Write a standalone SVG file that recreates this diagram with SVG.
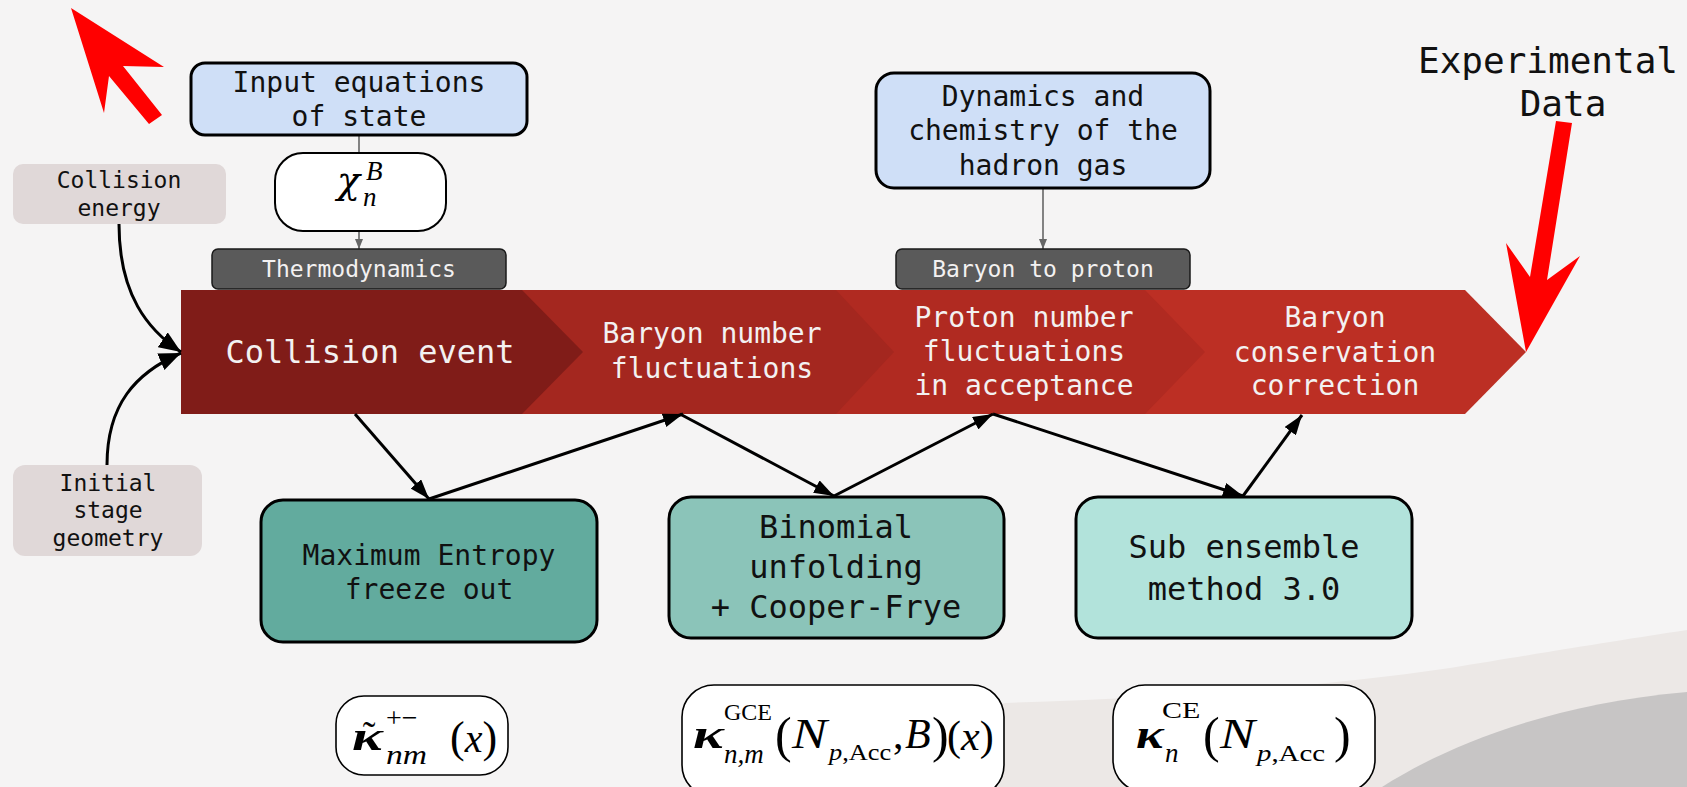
<svg xmlns="http://www.w3.org/2000/svg" width="1687" height="787" viewBox="0 0 1687 787">
<style>
.lbl{font-family:"DejaVu Sans Mono","Liberation Mono",monospace;fill:#111;text-anchor:middle;}
.wht{font-family:"DejaVu Sans Mono","Liberation Mono",monospace;fill:#f3f1f1;text-anchor:middle;}
.math{font-family:"Liberation Serif","DejaVu Serif",serif;fill:#000;}
.it{font-style:italic;}
.bi{font-style:italic;font-weight:bold;}
.blue{fill:#cfdff7;stroke:#000;stroke-width:3;}
.tag{fill:#5a5a5a;stroke:#1a1a1a;stroke-width:1.5;}
.side{fill:#e0d8d8;}
.formula{fill:#fff;stroke:#000;stroke-width:1.6;}
.teal{stroke:#000;stroke-width:3;}
.conn{stroke:#000;stroke-width:3;fill:none;}
.gconn{stroke:#666;stroke-width:1.6;fill:none;}
</style>
<defs>
<marker id="ah" viewBox="0 0 20 14" refX="20" refY="7" markerWidth="20" markerHeight="14" markerUnits="userSpaceOnUse" orient="auto"><path d="M0,0 L20,7 L0,14 z" fill="#000"/></marker>
<marker id="ahc" viewBox="0 0 22 18" refX="22" refY="9" markerWidth="22" markerHeight="18" markerUnits="userSpaceOnUse" orient="auto"><path d="M0,0 L22,9 L0,18 z" fill="#000"/></marker>
<marker id="ahg" viewBox="0 0 10 8" refX="10" refY="4" markerWidth="10" markerHeight="8" markerUnits="userSpaceOnUse" orient="auto"><path d="M0,0 L10,4 L0,8 z" fill="#666"/></marker>
</defs>

<!-- background -->
<rect x="0" y="0" width="1687" height="787" fill="#f5f4f4"/>
<path d="M930,787 C950,745 970,712 1005,703 C1150,698 1300,690 1450,668 C1560,650 1620,640 1687,630 L1687,787 Z" fill="#ece8e6"/>
<path d="M1382,787 C1440,750 1540,705 1687,692 L1687,787 Z" fill="#c7c5c5"/>

<!-- red pointer arrows -->
<polygon points="71,8 164,67 123,66 162,115 149,124 109,76 104,113" fill="#ff0000"/>
<polygon points="1526,352 1506,243 1530,277 1556,121 1572,123 1547,280 1580,256" fill="#ff0000"/>

<!-- process band -->
<g id="band">
<polygon points="181,290 1465,290 1526,352 1465,414 181,414" fill="#bc2f24"/>
<polygon points="181,290 1145,290 1205,352 1145,414 181,414" fill="#b02a21"/>
<polygon points="181,290 836,290 894,352 836,414 181,414" fill="#a4271f"/>
<polygon points="181,290 522,290 583,352 522,414 181,414" fill="#801c18"/>
</g>
<g id="collision-event"><text class="wht" x="370" y="363" font-size="32">Collision event</text></g>
<g id="baryon-fluct"><text class="wht" font-size="28"><tspan x="712" y="343">Baryon number</tspan><tspan x="712" y="378">fluctuations</tspan></text></g>
<g id="proton-fluct"><text class="wht" font-size="28"><tspan x="1024" y="327">Proton number</tspan><tspan x="1024" y="361">fluctuations</tspan><tspan x="1024" y="395">in acceptance</tspan></text></g>
<g id="baryon-cons"><text class="wht" font-size="28"><tspan x="1335" y="327">Baryon</tspan><tspan x="1335" y="362">conservation</tspan><tspan x="1335" y="395">correction</tspan></text></g>

<!-- connectors -->
<g id="connectors">
<line class="gconn" x1="359" y1="135" x2="359" y2="153"/>
<line class="gconn" x1="359" y1="231" x2="359" y2="249" marker-end="url(#ahg)"/>
<line class="gconn" x1="1043" y1="188" x2="1043" y2="249" marker-end="url(#ahg)"/>
<path class="conn" d="M119,224 C119,295 148,330 181,352" marker-end="url(#ahc)"/>
<path class="conn" d="M107,465 C107,405 135,373 181,353" marker-end="url(#ahc)"/>
<line class="conn" x1="355" y1="414" x2="429" y2="499" marker-end="url(#ah)"/>
<line class="conn" x1="429" y1="499" x2="683" y2="414" marker-end="url(#ah)"/>
<line class="conn" x1="680" y1="414" x2="834" y2="496" marker-end="url(#ah)"/>
<line class="conn" x1="834" y1="496" x2="993" y2="414" marker-end="url(#ah)"/>
<line class="conn" x1="993" y1="414" x2="1243" y2="496" marker-end="url(#ah)"/>
<line class="conn" x1="1243" y1="496" x2="1302" y2="415" marker-end="url(#ah)"/>
</g>

<g id="input-eos">
<rect class="blue" x="191" y="63" width="336" height="72" rx="14"/>
<text class="lbl" font-size="28"><tspan x="359" y="92">Input equations</tspan><tspan x="359" y="126">of state</tspan></text>
</g>
<g id="chi">
<rect x="275" y="153" width="171" height="78" rx="28" fill="#fff" stroke="#000" stroke-width="2"/>
<text x="337" y="193" font-size="38" font-style="italic" font-family="'DejaVu Serif',serif">χ</text>
<text class="math it" x="366" y="180" font-size="27">B</text>
<text class="math it" x="363" y="206" font-size="27">n</text>
</g>
<g id="thermo">
<rect class="tag" x="212" y="249" width="294" height="40" rx="6"/>
<text class="wht" x="359" y="277" font-size="23" fill="#eeeeee">Thermodynamics</text>
</g>
<g id="dynamics">
<rect class="blue" x="876" y="73" width="334" height="115" rx="18"/>
<text class="lbl" font-size="28"><tspan x="1043" y="106">Dynamics and</tspan><tspan x="1043" y="140">chemistry of the</tspan><tspan x="1043" y="175">hadron gas</tspan></text>
</g>
<g id="b2p">
<rect class="tag" x="896" y="249" width="294" height="40" rx="6"/>
<text class="wht" x="1043" y="277" font-size="23">Baryon to proton</text>
</g>
<g id="exp-data">
<text class="lbl" x="1548" y="73" font-size="36">Experimental</text>
<text class="lbl" x="1563" y="116" font-size="36">Data</text>
</g>
<g id="coll-energy">
<rect class="side" x="13" y="164" width="213" height="60" rx="10"/>
<text class="lbl" font-size="23"><tspan x="119" y="188">Collision</tspan><tspan x="119" y="216">energy</tspan></text>
</g>
<g id="init-geom">
<rect class="side" x="13" y="465" width="189" height="91" rx="12"/>
<text class="lbl" font-size="23"><tspan x="108" y="491">Initial</tspan><tspan x="108" y="518">stage</tspan><tspan x="108" y="546">geometry</tspan></text>
</g>

<g id="max-entropy">
<rect class="teal" x="261" y="500" width="336" height="142" rx="22" fill="#62ab9e"/>
<text class="lbl" font-size="28"><tspan x="429" y="565">Maximum Entropy</tspan><tspan x="429" y="599">freeze out</tspan></text>
</g>
<g id="binomial">
<rect class="teal" x="669" y="497" width="335" height="141" rx="22" fill="#8bc4b9"/>
<text class="lbl" font-size="32"><tspan x="836" y="538">Binomial</tspan><tspan x="836" y="578">unfolding</tspan><tspan x="836" y="618">+ Cooper-Frye</tspan></text>
</g>
<g id="sub-ensemble">
<rect class="teal" x="1076" y="497" width="336" height="141" rx="22" fill="#b2e3db"/>
<text class="lbl" font-size="32"><tspan x="1244" y="558">Sub ensemble</tspan><tspan x="1244" y="600">method 3.0</tspan></text>
</g>

<g id="formula-1">
<rect class="formula" x="336" y="696" width="172" height="79" rx="28"/>
<text class="math bi" font-size="40" transform="translate(352,750) scale(1.45,1)">κ</text>
<text class="math" x="369" y="748" font-size="38" text-anchor="middle">˜</text>
<text class="math" x="386" y="727" font-size="28">+−</text>
<text class="math it" font-size="28" transform="translate(386,764) scale(1.2,1)">nm</text>
<text class="math" x="450" y="752" font-size="44">(<tspan class="it" font-size="40">x</tspan>)</text>
</g>
<g id="formula-2">
<rect class="formula" x="682" y="685" width="322" height="112" rx="32"/>
<text class="math bi" font-size="40" transform="translate(693,748) scale(1.45,1)">κ</text>
<text class="math" x="724" y="720" font-size="24">GCE</text>
<text class="math it" x="724" y="763" font-size="27">n,m</text>
<text class="math" x="775" y="752" font-size="50">(</text>
<text class="math it" font-size="42" transform="translate(792,748) scale(1.25,1)">N</text>
<text class="math" font-size="24" transform="translate(829,760) scale(1.1,1)"><tspan class="it">p</tspan>,Acc</text>
<text class="math" x="893" y="748" font-size="42">,</text>
<text class="math it" x="905" y="748" font-size="42">B</text>
<text class="math" x="932" y="752" font-size="50">)</text>
<text class="math" x="947" y="750" font-size="42">(<tspan class="it">x</tspan>)</text>
</g>
<g id="formula-3">
<rect class="formula" x="1113" y="685" width="262" height="107" rx="32"/>
<text class="math bi" font-size="40" transform="translate(1136,748) scale(1.3,1)">κ</text>
<text class="math" font-size="24" transform="translate(1162,718) scale(1.25,1)">CE</text>
<text class="math it" x="1165" y="762" font-size="27">n</text>
<text class="math" x="1203" y="752" font-size="50">(</text>
<text class="math it" font-size="42" transform="translate(1220,748) scale(1.25,1)">N</text>
<text class="math" font-size="24" transform="translate(1257,761) scale(1.2,1)"><tspan class="it">p</tspan>,Acc</text>
<text class="math" x="1334" y="752" font-size="50">)</text>
</g>
</svg>
